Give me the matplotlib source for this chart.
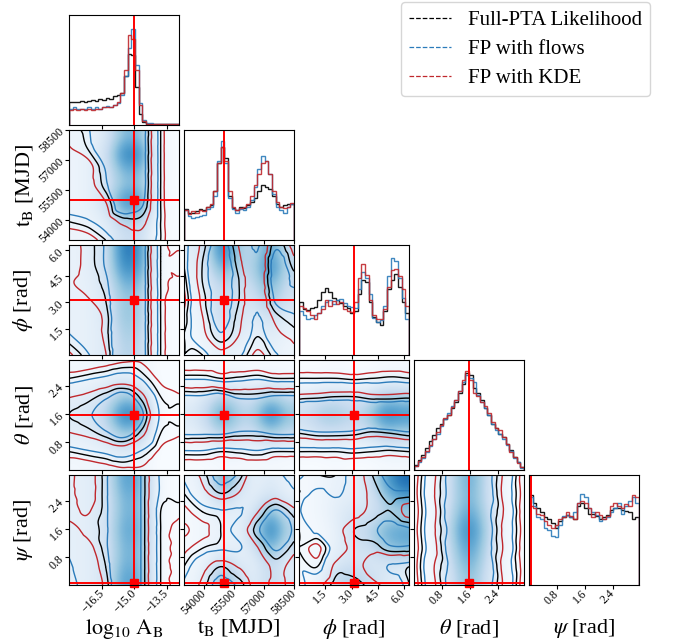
import numpy as np
import matplotlib
matplotlib.use("Agg")
import matplotlib.pyplot as plt
import matplotlib.tri as mtri
from matplotlib.lines import Line2D

plt.rcParams['font.family'] = ['Liberation Serif', 'DejaVu Serif']
plt.rcParams['mathtext.fontset'] = 'stix'

# parameters
labels = [r"$\log_{10}\,\mathrm{A_B}$", r"$\mathrm{t_B}$ [MJD]", r"$\phi$ [rad]",
          r"$\theta$ [rad]", r"$\psi$ [rad]"]
ranges = [(-18.05, -12.92), (53000, 58500), (0, 6.283), (0, 3.1416), (0, 3.1416)]
ticks = [[-16.5, -15.0, -13.5], [54000, 55500, 57000, 58500], [1.5, 3.0, 4.5, 6.0],
         [0.8, 1.6, 2.4], [0.8, 1.6, 2.4]]
tick_labels = [["\u221216.5", "\u221215.0", "\u221213.5"], ["54000", "55500", "57000", "58500"],
               ["1.5", "3.0", "4.5", "6.0"], ["0.8", "1.6", "2.4"], ["0.8", "1.6", "2.4"]]
truths = [-15.0, 55000, 3.14, 1.57, 0.05]

# 1D histograms (bin heights, fraction of panel height), 30 bins each
logA_full = [0.21, 0.21, 0.21, 0.22, 0.21, 0.22, 0.23, 0.22, 0.24, 0.23, 0.25, 0.24, 0.26, 0.27, 0.29,
             0.45, 0.65, 0.64, 0.35, 0.10, 0.03, 0.01, 0.01, 0.01, 0.005, 0.005, 0.005, 0.005, 0.005, 0.01]
logA_flows = [0.15, 0.16, 0.15, 0.15, 0.15, 0.16, 0.15, 0.16, 0.15, 0.16, 0.17, 0.16, 0.18, 0.20, 0.27,
              0.45, 0.70, 0.87, 0.55, 0.20, 0.05, 0.02, 0.015, 0.01, 0.01, 0.01, 0.01, 0.005, 0.01, 0.01]
logA_kde = [0.14, 0.15, 0.14, 0.15, 0.14, 0.15, 0.14, 0.15, 0.15, 0.16, 0.16, 0.16, 0.18, 0.21, 0.29,
            0.50, 0.82, 0.78, 0.50, 0.18, 0.04, 0.01, 0.01, 0.01, 0.01, 0.005, 0.005, 0.005, 0.005, 0.005]

tB_full = [0.28, 0.25, 0.25, 0.26, 0.28, 0.27, 0.30, 0.32, 0.45, 0.70, 0.85, 0.75, 0.40, 0.29, 0.27,
           0.30, 0.29, 0.32, 0.35, 0.38, 0.45, 0.50, 0.48, 0.46, 0.40, 0.33, 0.30, 0.32, 0.33, 0.33]
tB_flows = [0.27, 0.22, 0.20, 0.21, 0.22, 0.23, 0.28, 0.30, 0.40, 0.72, 0.90, 0.70, 0.38, 0.28, 0.25,
            0.28, 0.27, 0.30, 0.36, 0.48, 0.65, 0.76, 0.72, 0.60, 0.42, 0.30, 0.27, 0.25, 0.30, 0.33]
tB_kde = [0.27, 0.24, 0.26, 0.25, 0.27, 0.26, 0.30, 0.33, 0.45, 0.70, 0.85, 0.72, 0.45, 0.30, 0.27,
          0.29, 0.30, 0.33, 0.40, 0.50, 0.60, 0.70, 0.72, 0.60, 0.45, 0.35, 0.30, 0.29, 0.30, 0.34]

phi_full = [0.48, 0.42, 0.41, 0.43, 0.44, 0.50, 0.57, 0.61, 0.57, 0.52, 0.50, 0.47, 0.45, 0.43, 0.38,
            0.40, 0.55, 0.68, 0.66, 0.48, 0.35, 0.30, 0.27, 0.40, 0.60, 0.68, 0.74, 0.62, 0.48, 0.38]
phi_flows = [0.40, 0.36, 0.33, 0.34, 0.36, 0.38, 0.45, 0.48, 0.50, 0.46, 0.50, 0.51, 0.47, 0.45, 0.44,
             0.43, 0.60, 0.75, 0.70, 0.55, 0.34, 0.30, 0.32, 0.45, 0.72, 0.88, 0.85, 0.70, 0.52, 0.33]
phi_kde = [0.45, 0.43, 0.40, 0.36, 0.33, 0.38, 0.42, 0.50, 0.45, 0.49, 0.46, 0.48, 0.42, 0.40, 0.39,
           0.48, 0.70, 0.83, 0.73, 0.50, 0.36, 0.33, 0.33, 0.42, 0.62, 0.77, 0.78, 0.72, 0.60, 0.45]

theta_full = [0.05, 0.09, 0.14, 0.20, 0.26, 0.32, 0.38, 0.42, 0.46, 0.50, 0.56, 0.62, 0.70, 0.78, 0.88,
              0.86, 0.75, 0.70, 0.64, 0.56, 0.50, 0.42, 0.38, 0.33, 0.30, 0.24, 0.18, 0.12, 0.07, 0.03]
theta_flows = [0.04, 0.07, 0.11, 0.16, 0.22, 0.28, 0.33, 0.40, 0.46, 0.52, 0.58, 0.64, 0.72, 0.80, 0.86,
               0.84, 0.80, 0.68, 0.62, 0.56, 0.50, 0.42, 0.36, 0.33, 0.28, 0.23, 0.17, 0.11, 0.07, 0.02]
theta_kde = [0.04, 0.08, 0.12, 0.17, 0.23, 0.28, 0.35, 0.41, 0.47, 0.50, 0.57, 0.64, 0.72, 0.82, 0.90,
             0.82, 0.70, 0.67, 0.62, 0.58, 0.52, 0.44, 0.38, 0.36, 0.30, 0.24, 0.16, 0.12, 0.06, 0.03]

psi_full = [0.82, 0.75, 0.70, 0.66, 0.62, 0.60, 0.56, 0.52, 0.58, 0.62, 0.64, 0.62, 0.60, 0.72, 0.75,
            0.70, 0.65, 0.65, 0.63, 0.60, 0.62, 0.64, 0.68, 0.70, 0.70, 0.68, 0.67, 0.66, 0.60, 0.62]
psi_flows = [0.80, 0.72, 0.62, 0.60, 0.52, 0.50, 0.45, 0.44, 0.55, 0.63, 0.64, 0.62, 0.66, 0.75, 0.83,
             0.80, 0.70, 0.66, 0.64, 0.58, 0.60, 0.62, 0.66, 0.70, 0.75, 0.65, 0.72, 0.76, 0.80, 0.75]
psi_kde = [0.72, 0.70, 0.65, 0.64, 0.58, 0.55, 0.52, 0.55, 0.60, 0.62, 0.66, 0.63, 0.60, 0.75, 0.76,
           0.75, 0.70, 0.62, 0.66, 0.64, 0.60, 0.63, 0.72, 0.75, 0.72, 0.70, 0.74, 0.72, 0.82, 0.80]

hists = [(logA_full, logA_flows, logA_kde), (tB_full, tB_flows, tB_kde), (phi_full, phi_flows, phi_kde),
         (theta_full, theta_flows, theta_kde), (psi_full, psi_flows, psi_kde)]

# 2D panels: background density (flows samples) and smoothed contour field, rows bottom -> top
bg_tB_logA = [[0.05, 0.06, 0.10, 0.25, 0.25, 0.03, 0.0],
              [0.06, 0.08, 0.15, 0.40, 0.40, 0.05, 0.0],
              [0.06, 0.10, 0.25, 0.75, 0.70, 0.08, 0.0],
              [0.06, 0.10, 0.20, 0.45, 0.45, 0.06, 0.0],
              [0.06, 0.10, 0.22, 0.55, 0.55, 0.07, 0.0],
              [0.06, 0.10, 0.25, 0.80, 0.75, 0.08, 0.0],
              [0.06, 0.08, 0.18, 0.50, 0.50, 0.05, 0.0]]
cf_tB_logA = [[0.10, 0.15, 0.30, 0.45, 0.50, 0.30, 0.0],
              [0.30, 0.35, 0.45, 0.60, 0.60, 0.30, 0.0],
              [0.45, 0.45, 0.55, 0.90, 0.75, 0.30, 0.0],
              [0.50, 0.50, 0.70, 1.00, 0.80, 0.30, 0.0],
              [0.50, 0.50, 0.75, 1.00, 0.80, 0.30, 0.0],
              [0.55, 0.65, 0.90, 1.00, 0.80, 0.30, 0.0],
              [0.60, 0.70, 1.00, 1.00, 0.80, 0.30, 0.0]]

bg_phi_logA = [[0.08, 0.10, 0.15, 0.35, 0.30, 0.03, 0.0],
               [0.08, 0.10, 0.15, 0.40, 0.35, 0.03, 0.0],
               [0.08, 0.10, 0.18, 0.45, 0.40, 0.04, 0.0],
               [0.08, 0.10, 0.18, 0.45, 0.40, 0.04, 0.0],
               [0.08, 0.10, 0.20, 0.55, 0.50, 0.04, 0.0],
               [0.08, 0.12, 0.25, 0.75, 0.65, 0.05, 0.0],
               [0.08, 0.12, 0.25, 0.85, 0.70, 0.05, 0.0]]
cf_phi_logA = [[0.20, 0.35, 0.55, 1.00, 0.80, 0.30, 0.10],
               [0.35, 0.45, 0.60, 1.00, 0.80, 0.30, 0.10],
               [0.45, 0.50, 0.60, 1.00, 0.80, 0.30, 0.10],
               [0.55, 0.55, 0.65, 1.00, 0.80, 0.30, 0.10],
               [0.55, 0.60, 0.70, 1.00, 0.80, 0.30, 0.20],
               [0.50, 0.60, 0.75, 1.00, 0.80, 0.30, 0.30],
               [0.50, 0.60, 0.75, 1.00, 0.80, 0.30, 0.20]]

bg_theta_logA = [[0.03, 0.04, 0.05, 0.08, 0.06, 0.0, 0.0],
                 [0.06, 0.08, 0.12, 0.20, 0.15, 0.0, 0.0],
                 [0.12, 0.15, 0.25, 0.50, 0.40, 0.02, 0.0],
                 [0.15, 0.20, 0.35, 0.85, 0.70, 0.03, 0.0],
                 [0.12, 0.15, 0.25, 0.50, 0.40, 0.02, 0.0],
                 [0.06, 0.08, 0.12, 0.20, 0.15, 0.0, 0.0],
                 [0.03, 0.04, 0.05, 0.08, 0.06, 0.0, 0.0]]
cf_theta_logA = [[0.10, 0.10, 0.15, 0.20, 0.20, 0.10, 0.05],
                 [0.30, 0.35, 0.40, 0.45, 0.35, 0.20, 0.10],
                 [0.55, 0.60, 0.70, 0.80, 0.60, 0.30, 0.25],
                 [0.65, 0.70, 0.85, 1.00, 0.75, 0.35, 0.35],
                 [0.55, 0.60, 0.70, 0.80, 0.60, 0.30, 0.25],
                 [0.30, 0.35, 0.40, 0.45, 0.35, 0.20, 0.10],
                 [0.10, 0.10, 0.15, 0.20, 0.20, 0.10, 0.05]]

bg_psi_logA = [[0.10, 0.12, 0.22, 0.65, 0.55, 0.05, 0.0],
               [0.10, 0.12, 0.20, 0.55, 0.50, 0.05, 0.0],
               [0.10, 0.12, 0.20, 0.55, 0.50, 0.05, 0.0],
               [0.10, 0.12, 0.22, 0.60, 0.55, 0.05, 0.0],
               [0.10, 0.12, 0.20, 0.55, 0.50, 0.05, 0.0],
               [0.10, 0.12, 0.20, 0.55, 0.50, 0.05, 0.0],
               [0.10, 0.12, 0.22, 0.65, 0.55, 0.05, 0.0]]
cf_psi_logA = [[0.30, 0.45, 0.60, 1.00, 0.70, 0.30, 0.20],
               [0.35, 0.45, 0.65, 1.00, 0.70, 0.30, 0.20],
               [0.40, 0.50, 0.70, 1.00, 0.70, 0.30, 0.20],
               [0.50, 0.60, 0.70, 1.00, 0.70, 0.30, 0.20],
               [0.60, 0.55, 0.70, 1.00, 0.70, 0.30, 0.25],
               [0.60, 0.50, 0.70, 1.00, 0.70, 0.35, 0.35],
               [0.60, 0.50, 0.70, 1.00, 0.70, 0.35, 0.35]]

bg_phi_tB = [[0.02, 0.05, 0.10, 0.08, 0.05, 0.10, 0.05],
             [0.03, 0.08, 0.20, 0.15, 0.08, 0.15, 0.08],
             [0.04, 0.10, 0.30, 0.20, 0.12, 0.25, 0.12],
             [0.05, 0.12, 0.30, 0.20, 0.20, 0.45, 0.20],
             [0.06, 0.15, 0.35, 0.20, 0.30, 0.55, 0.25],
             [0.08, 0.20, 0.60, 0.30, 0.35, 0.80, 0.30],
             [0.10, 0.25, 0.85, 0.35, 0.30, 0.65, 0.25]]
cf_phi_tB = [[0.30, 0.30, 0.50, 0.40, 0.20, 0.35, 0.50],
             [0.30, 0.50, 0.70, 0.55, 0.30, 0.50, 0.60],
             [0.25, 0.55, 0.80, 0.60, 0.35, 0.60, 0.70],
             [0.20, 0.60, 0.80, 0.65, 0.40, 0.75, 0.80],
             [0.25, 0.65, 0.80, 0.65, 0.45, 0.80, 0.70],
             [0.30, 0.65, 0.85, 0.60, 0.40, 0.80, 0.60],
             [0.30, 0.60, 0.80, 0.55, 0.35, 0.70, 0.50]]

bg_theta_tB = [[0.0, 0.0, 0.02, 0.02, 0.01, 0.02, 0.01],
               [0.03, 0.06, 0.12, 0.10, 0.08, 0.12, 0.08],
               [0.10, 0.20, 0.40, 0.25, 0.25, 0.45, 0.30],
               [0.15, 0.30, 0.70, 0.35, 0.35, 0.85, 0.45],
               [0.10, 0.20, 0.40, 0.25, 0.25, 0.45, 0.30],
               [0.03, 0.06, 0.12, 0.10, 0.08, 0.12, 0.08],
               [0.0, 0.0, 0.02, 0.02, 0.01, 0.02, 0.01]]
cf_theta_tB = [[0.10, 0.10, 0.10, 0.10, 0.10, 0.10, 0.10],
               [0.35, 0.35, 0.30, 0.32, 0.35, 0.30, 0.30],
               [0.75, 0.75, 0.75, 0.70, 0.70, 0.75, 0.75],
               [0.90, 0.95, 1.00, 0.90, 0.90, 1.00, 0.95],
               [0.75, 0.75, 0.80, 0.70, 0.70, 0.75, 0.75],
               [0.35, 0.35, 0.30, 0.32, 0.35, 0.30, 0.30],
               [0.10, 0.10, 0.10, 0.10, 0.10, 0.10, 0.10]]

bg_psi_tB = [[0.05, 0.15, 0.50, 0.25, 0.10, 0.30, 0.15],
             [0.03, 0.08, 0.25, 0.12, 0.10, 0.30, 0.12],
             [0.02, 0.05, 0.10, 0.08, 0.20, 0.60, 0.25],
             [0.02, 0.05, 0.08, 0.08, 0.30, 0.85, 0.35],
             [0.02, 0.05, 0.10, 0.08, 0.20, 0.60, 0.25],
             [0.03, 0.10, 0.30, 0.12, 0.10, 0.25, 0.10],
             [0.05, 0.15, 0.60, 0.25, 0.08, 0.15, 0.08]]
cf_psi_tB = [[0.40, 0.60, 0.80, 0.70, 0.50, 0.60, 0.50],
             [0.30, 0.50, 0.65, 0.55, 0.45, 0.60, 0.50],
             [0.20, 0.30, 0.35, 0.35, 0.55, 0.75, 0.60],
             [0.25, 0.20, 0.30, 0.45, 0.70, 0.90, 0.70],
             [0.20, 0.30, 0.35, 0.35, 0.55, 0.75, 0.60],
             [0.30, 0.50, 0.65, 0.55, 0.40, 0.50, 0.40],
             [0.40, 0.60, 0.80, 0.70, 0.40, 0.40, 0.30]]

bg_theta_phi = [[0.0, 0.0, 0.01, 0.0, 0.0, 0.02, 0.02],
                [0.04, 0.06, 0.08, 0.06, 0.06, 0.12, 0.12],
                [0.15, 0.25, 0.25, 0.20, 0.25, 0.45, 0.40],
                [0.25, 0.40, 0.40, 0.30, 0.40, 0.80, 0.70],
                [0.15, 0.25, 0.25, 0.20, 0.25, 0.45, 0.40],
                [0.04, 0.06, 0.08, 0.06, 0.06, 0.12, 0.12],
                [0.0, 0.0, 0.01, 0.0, 0.0, 0.02, 0.02]]
cf_theta_phi = [[0.10, 0.10, 0.12, 0.10, 0.10, 0.10, 0.12],
                [0.30, 0.30, 0.30, 0.32, 0.30, 0.28, 0.30],
                [0.65, 0.70, 0.70, 0.68, 0.62, 0.65, 0.70],
                [0.95, 1.00, 1.00, 0.95, 0.95, 1.00, 1.00],
                [0.60, 0.62, 0.65, 0.65, 0.60, 0.60, 0.62],
                [0.30, 0.30, 0.30, 0.28, 0.30, 0.32, 0.30],
                [0.10, 0.10, 0.10, 0.12, 0.10, 0.10, 0.10]]

bg_psi_phi = [[0.02, 0.10, 0.30, 0.35, 0.25, 0.15, 0.10],
              [0.02, 0.05, 0.15, 0.20, 0.15, 0.20, 0.20],
              [0.02, 0.03, 0.10, 0.20, 0.25, 0.45, 0.55],
              [0.02, 0.03, 0.10, 0.25, 0.30, 0.55, 0.60],
              [0.02, 0.05, 0.12, 0.20, 0.20, 0.30, 0.35],
              [0.02, 0.05, 0.10, 0.12, 0.15, 0.40, 0.60],
              [0.02, 0.05, 0.08, 0.10, 0.20, 0.60, 0.85]]
cf_psi_phi = [[0.30, 0.50, 0.70, 0.70, 0.60, 0.50, 0.30],
              [0.35, 0.30, 0.60, 0.60, 0.50, 0.35, 0.30],
              [0.30, 0.20, 0.45, 0.60, 0.60, 0.70, 0.70],
              [0.30, 0.40, 0.50, 0.65, 0.70, 0.80, 0.75],
              [0.35, 0.55, 0.45, 0.50, 0.60, 0.65, 0.50],
              [0.30, 0.40, 0.35, 0.45, 0.60, 0.70, 0.70],
              [0.40, 0.30, 0.30, 0.45, 0.65, 0.80, 0.90]]

bg_psi_theta = [[0.0, 0.05, 0.25, 0.50, 0.25, 0.05, 0.0],
                [0.0, 0.05, 0.30, 0.60, 0.30, 0.05, 0.0],
                [0.0, 0.06, 0.35, 0.70, 0.35, 0.06, 0.0],
                [0.0, 0.06, 0.40, 0.80, 0.40, 0.06, 0.0],
                [0.0, 0.06, 0.35, 0.65, 0.35, 0.06, 0.0],
                [0.0, 0.05, 0.30, 0.55, 0.30, 0.05, 0.0],
                [0.0, 0.05, 0.30, 0.60, 0.30, 0.05, 0.0]]
cf_psi_theta = [[0.15, 0.50, 0.80, 1.00, 0.80, 0.50, 0.15],
                [0.17, 0.53, 0.77, 1.00, 0.83, 0.47, 0.17],
                [0.15, 0.48, 0.81, 1.00, 0.79, 0.51, 0.15],
                [0.17, 0.51, 0.78, 1.00, 0.81, 0.49, 0.17],
                [0.15, 0.49, 0.82, 1.00, 0.78, 0.52, 0.15],
                [0.17, 0.52, 0.79, 1.00, 0.82, 0.48, 0.17],
                [0.15, 0.50, 0.80, 1.00, 0.80, 0.50, 0.15]]

panels_2d = {
    (1, 0): (bg_tB_logA, cf_tB_logA),
    (2, 0): (bg_phi_logA, cf_phi_logA),
    (3, 0): (bg_theta_logA, cf_theta_logA),
    (4, 0): (bg_psi_logA, cf_psi_logA),
    (2, 1): (bg_phi_tB, cf_phi_tB),
    (3, 1): (bg_theta_tB, cf_theta_tB),
    (4, 1): (bg_psi_tB, cf_psi_tB),
    (3, 2): (bg_theta_phi, cf_theta_phi),
    (4, 2): (bg_psi_phi, cf_psi_phi),
    (4, 3): (bg_psi_theta, cf_psi_theta),
}

series_names = ["Full-PTA Likelihood", "FP with flows", "FP with KDE"]
series_colors = ["k", "#2b7bba", "#c0282d"]
series_levels = [[0.30, 0.65], [0.37, 0.73], [0.23, 0.56]]
truth_color = "#ff0000"


def draw_2d(ax, bg, cf, xr, yr):
    ax.imshow(np.array(bg), origin="lower", extent=(xr[0], xr[1], yr[0], yr[1]), aspect="auto",
              cmap="Blues", vmin=0, vmax=1.1, interpolation="bicubic")
    cf = np.array(cf, dtype=float)
    ny, nx = cf.shape
    U, V = np.meshgrid(np.linspace(0, 1, nx), np.linspace(0, 1, ny))
    tri = mtri.Triangulation(U.ravel(), V.ravel())
    interp = mtri.CubicTriInterpolator(tri, cf.ravel(), kind="geom")
    refiner = mtri.UniformTriRefiner(tri)
    tri_f, z_f = refiner.refine_field(cf.ravel(), triinterpolator=interp, subdiv=4)
    tri_s = mtri.Triangulation(xr[0] + tri_f.x * (xr[1] - xr[0]), yr[0] + tri_f.y * (yr[1] - yr[0]),
                               tri_f.triangles)
    for color, lev in zip(series_colors, series_levels):
        ax.tricontour(tri_s, z_f, levels=lev, colors=color, linewidths=1.0)


fig = plt.figure(figsize=(6.73, 6.44), dpi=100)
W, H = 673.0, 644.0
n = 5
for i in range(n):
    for j in range(i + 1):
        left = 69 + 115 * j
        top = 15 + 115 * i
        ax = fig.add_axes([left / W, 1 - (top + 110) / H, 110 / W, 110 / H])
        xr = ranges[j]
        if i == j:
            edges = np.linspace(xr[0], xr[1], len(hists[i][0]) + 1)
            for vals, color in zip(hists[i], series_colors):
                ax.stairs(vals, edges, color=color, lw=1.0, alpha=0.9)
            ax.axvline(truths[i], color=truth_color, lw=1.4)
            ax.set_ylim(0, 1)
            ax.set_yticks([])
        else:
            yr = ranges[i]
            bg, cf = panels_2d[(i, j)]
            draw_2d(ax, bg, cf, xr, yr)
            ax.axvline(truths[j], color=truth_color, lw=1.4)
            ax.axhline(truths[i], color=truth_color, lw=1.4)
            ax.plot(truths[j], truths[i], "s", color=truth_color, ms=5.5, clip_on=False)
            ax.set_ylim(yr)
            ax.set_yticks(ticks[i])
            if j == 0:
                ax.set_yticklabels(tick_labels[i], rotation=45, ha="right", va="center",
                                   rotation_mode="anchor", fontsize=8.5)
                ax.set_ylabel(labels[i], fontsize=16)
                ax.yaxis.set_label_coords(-0.31, 0.5)
            else:
                ax.set_yticklabels([])
        ax.set_xlim(xr)
        ax.set_xticks(ticks[j])
        if i == n - 1:
            ax.set_xticklabels(tick_labels[j], rotation=45, ha="right", va="center",
                               rotation_mode="anchor", fontsize=8.5)
            ax.set_xlabel(labels[j], fontsize=16)
            ax.xaxis.set_label_coords(0.5, -0.29)
        else:
            ax.set_xticklabels([])
        ax.tick_params(direction="out", length=3, width=0.8, pad=2)

handles = [Line2D([], [], color=c, ls="--", lw=0.9) for c in series_colors]
fig.legend(handles, series_names, loc="upper right", bbox_to_anchor=(650 / W, 1 - 2 / H),
           borderaxespad=0.0, fontsize=15, handlelength=2.0, handletextpad=0.8, frameon=True,
           borderpad=0.4, labelspacing=0.45)

fig.savefig("out.png", dpi=100)
